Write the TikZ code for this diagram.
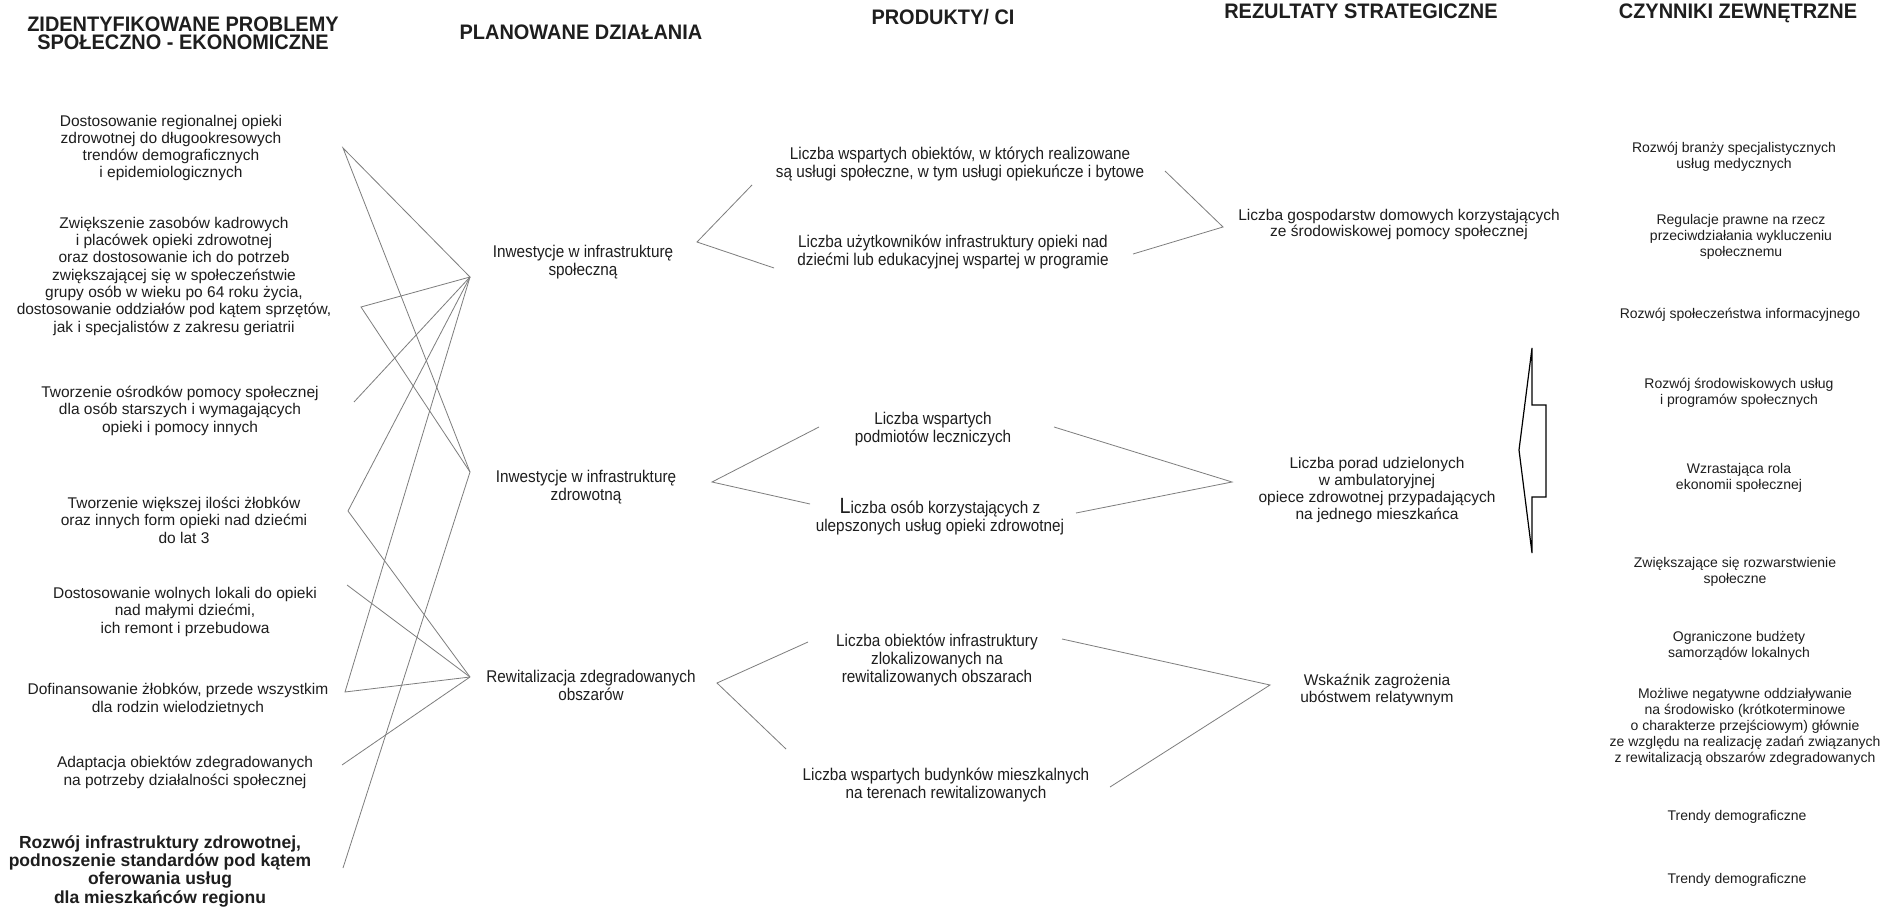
\documentclass[tikz,border=0pt]{standalone}
\usepackage{fontspec}
\setmainfont{Liberation Sans}
\newfontfamily\narrowfont{Liberation Sans}[FakeStretch=0.9]
\newfontfamily\headfont{Liberation Sans}[FakeStretch=0.95]
\definecolor{ink}{RGB}{30,30,30}
\definecolor{linkgray}{RGB}{125,125,125}
\newcommand\tightlines{\lineskiplimit -20pt\relax}

% each text node is placed by the baseline of its last line
\tikzset{
  txt/.style={align=center, inner sep=0pt, anchor=base, text=ink},
  probl/.style={txt, font={\fontsize{15.5}{17.3}\selectfont\tightlines}},
  probb/.style={txt, font={\fontsize{17.5}{18.3}\selectfont\bfseries\tightlines}},
  act/.style={txt, font={\narrowfont\fontsize{17}{18}\selectfont\tightlines}},
  res/.style={txt, font={\fontsize{15.5}{17}\selectfont\tightlines}},
  ext/.style={txt, font={\fontsize{14}{16}\selectfont\tightlines}},
  head/.style={txt, font={\headfont\bfseries\fontsize{21}{18.5}\selectfont\tightlines}},
  link/.style={draw=linkgray, line width=0.8pt, line join=miter},
  bigarrow/.style={draw=black, line width=1.2pt, line join=miter},
}

\begin{document}
\begin{tikzpicture}[x=1pt, y=-1pt]
\useasboundingbox[fill=white] (0,0) rectangle (1884,909);

% column headings
\node[head] (h1) at (183,50) {ZIDENTYFIKOWANE PROBLEMY\\SPOŁECZNO - EKONOMICZNE};
\node[head] (h2) at (581,40) {PLANOWANE DZIAŁANIA};
\node[head] (h3) at (943,25) {PRODUKTY/ CI};
\node[head] (h4) at (1361,19) {REZULTATY STRATEGICZNE};
\node[head] (h5) at (1738,19) {CZYNNIKI ZEWNĘTRZNE};

% identified problems
\node[probl] (l1) at (171,178) {Dostosowanie regionalnej opieki\\zdrowotnej do długookresowych\\trendów demograficznych\\i epidemiologicznych};
\node[probl] (l2) at (174,332) {Zwiększenie zasobów kadrowych\\i placówek opieki zdrowotnej\\oraz dostosowanie ich do potrzeb\\zwiększającej się w społeczeństwie\\grupy osób w wieku po 64 roku życia,\\dostosowanie oddziałów pod kątem sprzętów,\\jak i specjalistów z zakresu geriatrii};
\node[probl] (l3) at (180,432) {Tworzenie ośrodków pomocy społecznej\\dla osób starszych i wymagających\\opieki i pomocy innych};
\node[probl] (l4) at (184,543) {Tworzenie większej ilości żłobków\\oraz innych form opieki nad dziećmi\\do lat 3};
\node[probl] (l5) at (185,633) {Dostosowanie wolnych lokali do opieki\\nad małymi dziećmi,\\ich remont i przebudowa};
\node[probl] (l6) at (178,712) {Dofinansowanie żłobków, przede wszystkim\\dla rodzin wielodzietnych};
\node[probl] (l7) at (185,785) {Adaptacja obiektów zdegradowanych\\na potrzeby działalności społecznej};
\node[probb] (l8) at (160,903) {Rozwój infrastruktury zdrowotnej,\\podnoszenie standardów pod kątem\\oferowania usług\\dla mieszkańców regionu};

% planned actions
\node[act] (m1) at (583,276) {Inwestycje w infrastrukturę\\społeczną};
\node[act] (m2) at (586,500) {Inwestycje w infrastrukturę\\zdrowotną};
\node[act] (m3) at (591,700) {Rewitalizacja zdegradowanych\\obszarów};

% products
\node[act] (pr1) at (960,178) {Liczba wspartych obiektów, w których realizowane\\są usługi społeczne, w tym usługi opiekuńcze i bytowe};
\node[act] (pr2) at (953,266) {Liczba użytkowników infrastruktury opieki nad\\dziećmi lub edukacyjnej wspartej w programie};
\node[act] (pr3) at (933,442) {Liczba wspartych\\podmiotów leczniczych};
\node[act] (pr4) at (940,531) {{\fontsize{22}{18}\selectfont L}iczba osób korzystających z\\ulepszonych usług opieki zdrowotnej};
\node[act] (pr5) at (937,682) {Liczba obiektów infrastruktury\\zlokalizowanych na\\rewitalizowanych obszarach};
\node[act] (pr6) at (946,798) {Liczba wspartych budynków mieszkalnych\\na terenach rewitalizowanych};

% strategic results
\node[res] (r1) at (1399,237) {Liczba gospodarstw domowych korzystających\\ze środowiskowej pomocy społecznej};
\node[res] (r2) at (1377,519) {Liczba porad udzielonych\\w ambulatoryjnej\\opiece zdrowotnej przypadających\\na jednego mieszkańca};
\node[res] (r3) at (1377,702) {Wskaźnik zagrożenia\\ubóstwem relatywnym};

% external factors
\node[ext] (c1) at (1734,169) {Rozwój branży specjalistycznych\\usług medycznych};
\node[ext] (c2) at (1741,257) {Regulacje prawne na rzecz\\przeciwdziałania wykluczeniu\\społecznemu};
\node[ext] (c3) at (1740,318) {Rozwój społeczeństwa informacyjnego};
\node[ext] (c4) at (1739,404) {Rozwój środowiskowych usług\\i programów społecznych};
\node[ext] (c5) at (1739,489) {Wzrastająca rola\\ekonomii społecznej};
\node[ext] (c6) at (1735,583) {Zwiększające się rozwarstwienie\\społeczne};
\node[ext] (c7) at (1739,657) {Ograniczone budżety\\samorządów lokalnych};
\node[ext] (c8) at (1745,762) {Możliwe negatywne oddziaływanie\\na środowisko (krótkoterminowe\\o charakterze przejściowym) głównie\\ze względu na realizację zadań związanych\\z rewitalizacją obszarów zdegradowanych};
\node[ext] (c9) at (1737,820) {Trendy demograficzne};
\node[ext] (c10) at (1737,883) {Trendy demograficzne};

% connector end points beside the problem texts
\coordinate (p1) at (343,148);
\coordinate (p2) at (361,307);
\coordinate (p3) at (354,402);
\coordinate (p4) at (348,511);
\coordinate (p5) at (347,585);
\coordinate (p6) at (345,692);
\coordinate (p7) at (342,765);
\coordinate (p8) at (343,868);

% meeting points in front of the actions
\coordinate (m1v) at (470,277);
\coordinate (m2v) at (470,472);
\coordinate (m3v) at (470,677);

\draw[link] (m1v) -- (p1) -- (m2v);
\draw[link] (m1v) -- (p2) -- (m2v);
\draw[link] (p3) -- (m1v);
\draw[link] (m1v) -- (p4) -- (m3v);
\draw[link] (p5) -- (m3v);
\draw[link] (m1v) -- (p6) -- (m3v);
\draw[link] (p7) -- (m3v);
\draw[link] (p8) -- (m2v);

% actions to products
\coordinate (a1t) at (752,185);
\coordinate (a1v) at (697,242);
\coordinate (a1b) at (774,268);
\coordinate (a2t) at (819,427);
\coordinate (a2v) at (712,482);
\coordinate (a2b) at (810,504);
\coordinate (a3t) at (808,642);
\coordinate (a3v) at (717,683);
\coordinate (a3b) at (786,749);
\draw[link] (a1t) -- (a1v) -- (a1b);
\draw[link] (a2t) -- (a2v) -- (a2b);
\draw[link] (a3t) -- (a3v) -- (a3b);

% products to results
\coordinate (q1) at (1165,171);
\coordinate (q2) at (1133,254);
\coordinate (r1v) at (1223,227);
\coordinate (q3) at (1054,427);
\coordinate (q4) at (1076,513);
\coordinate (r2v) at (1232,482);
\coordinate (q5) at (1062,639);
\coordinate (q6) at (1110,787);
\coordinate (r3v) at (1270,685);
\draw[link] (q1) -- (r1v) -- (q2);
\draw[link] (q3) -- (r2v) -- (q4);
\draw[link] (q5) -- (r3v) -- (q6);

% arrow from the external factors
\coordinate (w1) at (1532,348);
\coordinate (w2) at (1532,405);
\coordinate (w3) at (1546,405);
\coordinate (w4) at (1546,497);
\coordinate (w5) at (1532,497);
\coordinate (w6) at (1532,553);
\coordinate (w7) at (1519,450);
\draw[bigarrow] (w1) -- (w2) -- (w3) -- (w4) -- (w5) -- (w6) -- (w7) -- cycle;
\end{tikzpicture}
\end{document}
